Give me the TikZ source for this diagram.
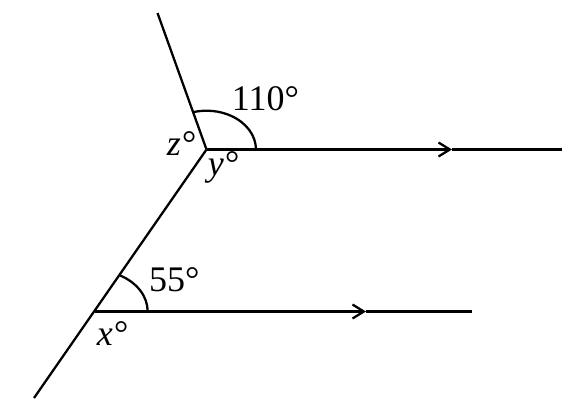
\documentclass[tikz,border=0pt]{standalone}
\usepackage{fontspec}
\setmainfont{Liberation Serif}
\usetikzlibrary{arrows.meta}
\tikzset{
  ln/.style={line width=1.7pt, line cap=butt},
  arr/.style={ln, -{Straight Barb[length=8.5pt, width=10.5pt, line width=1.7pt]}},
  lbl/.style={inner sep=0pt, anchor=base, font=\fontsize{27}{32}\selectfont},
}
\begin{document}
\begin{tikzpicture}[x=0.75pt, y=-0.75pt]
\useasboundingbox (0,0) rectangle (573,400);
\coordinate (T)  at (157.5,13);
\coordinate (A)  at (206.5,149.5);
\coordinate (M1) at (452,149.5);
\coordinate (R1) at (562,149.5);
\coordinate (B)  at (95,311.5);
\coordinate (Bot) at (34,398);
\coordinate (M2) at (366,311.5);
\coordinate (R2) at (472,311.5);

\draw[ln] (T) -- (A);
\draw[ln] (A) -- (Bot);
\draw[arr] (A) -- (M1);
\draw[ln] (M1) -- (R1);
\draw[arr] (B) -- (M2);
\draw[ln] (M2) -- (R2);

\draw[ln] ([xshift=37.1pt]A) arc[start angle=0, end angle=105.8, x radius=37.1pt, y radius=29.1pt];
\draw[ln] ([xshift=39.5pt]B) arc[start angle=0, end angle=61.3, x radius=39.5pt, y radius=30.75pt];

\node[lbl] (l110) at (265.5,110) {110°};
\node[lbl] (lz) at (181,155) {\itshape z°};
\node[lbl] (ly) at (223,175) {\itshape y°};
\node[lbl] (l55) at (174.3,291.7) {55°};
\node[lbl] (lx) at (112,345) {\itshape x°};
\end{tikzpicture}
\end{document}
